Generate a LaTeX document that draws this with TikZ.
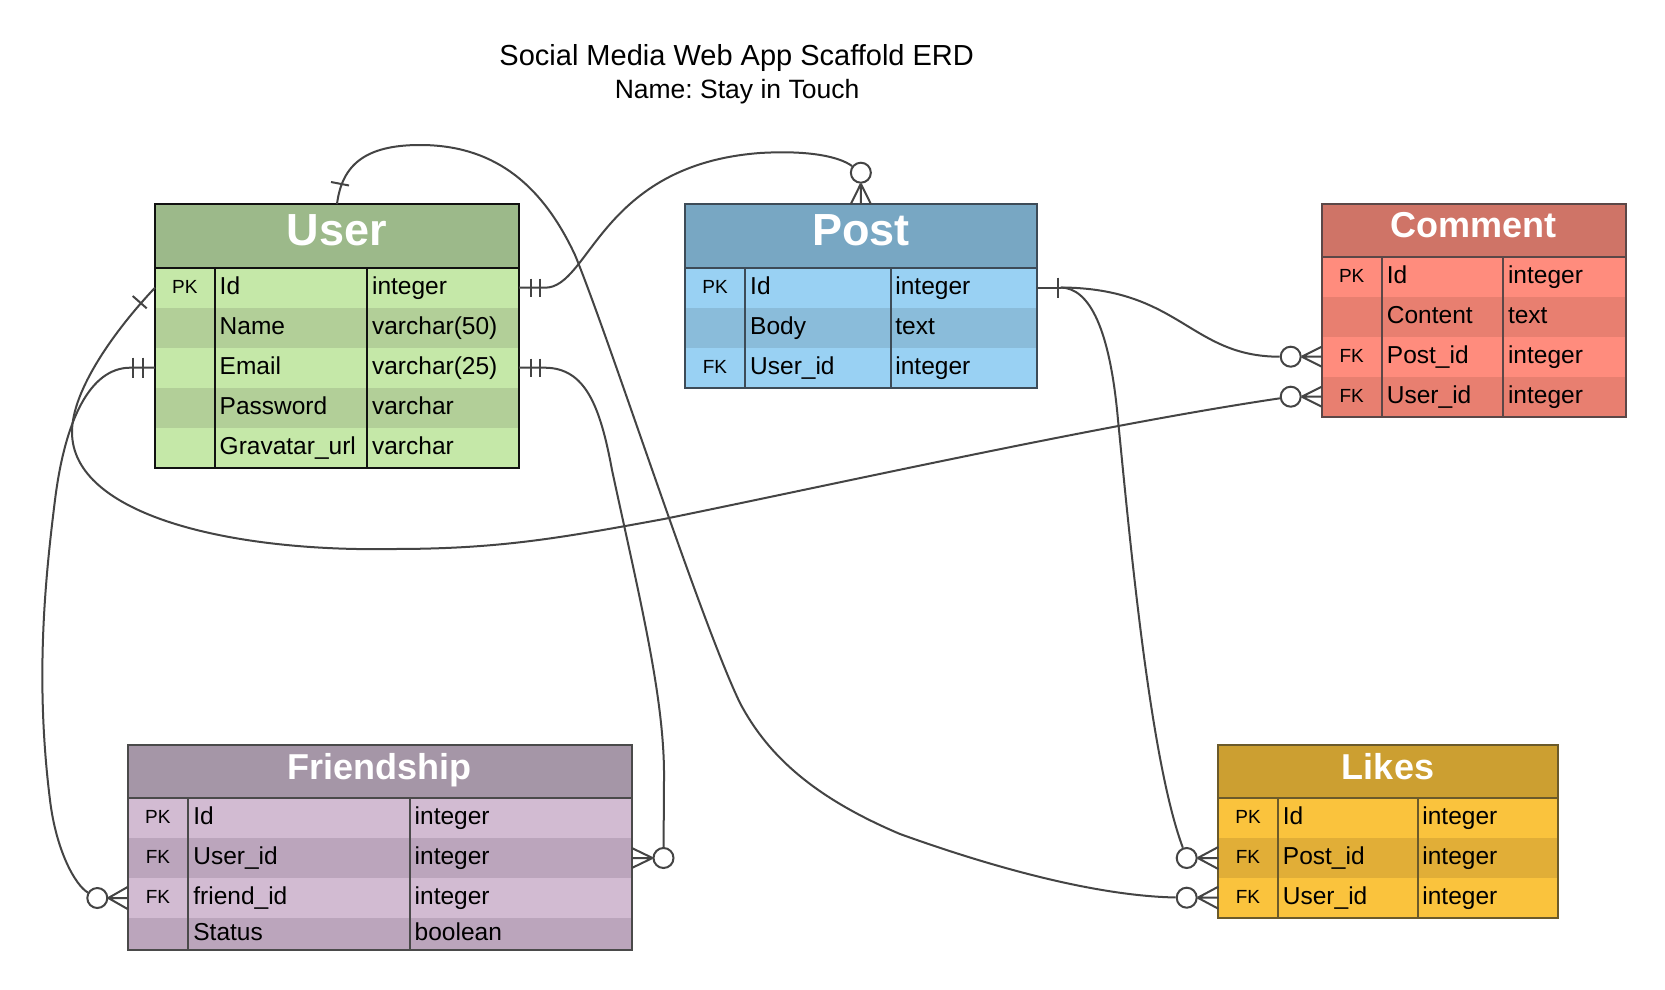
\documentclass[tikz,border=0pt]{standalone}
\usepackage{fontspec}
\setmainfont{Liberation Sans}
\usetikzlibrary{calc}
\frenchspacing
\definecolor{uH}{HTML}{9CB98A}
\definecolor{uL}{HTML}{C5E8A8}
\definecolor{uD}{HTML}{B2CF98}
\definecolor{uB}{HTML}{111111}
\definecolor{pH}{HTML}{78A7C3}
\definecolor{pL}{HTML}{99D1F3}
\definecolor{pD}{HTML}{8ABCDA}
\definecolor{pB}{HTML}{3D4B57}
\definecolor{cH}{HTML}{CF7467}
\definecolor{cL}{HTML}{FF8C7D}
\definecolor{cD}{HTML}{E87F70}
\definecolor{cB}{HTML}{5B4747}
\definecolor{fH}{HTML}{A596A7}
\definecolor{fL}{HTML}{D2BBD2}
\definecolor{fD}{HTML}{BBA5BC}
\definecolor{fB}{HTML}{4A4A4A}
\definecolor{lH}{HTML}{CC9F31}
\definecolor{lL}{HTML}{FAC33D}
\definecolor{lD}{HTML}{E1AE37}
\definecolor{lB}{HTML}{6B5A2A}
\definecolor{ln}{HTML}{444444}
\newcommand{\ERtable}[4]{\def\tL{#1}\def\tA{#2}\def\tB{#3}\def\tR{#4}\pgfmathsetmacro\tW{#4-#1}}
\newcommand{\ERhead}[7]{%
  \node[cellbox, fill=#4, minimum width=\tW pt, minimum height=#3 pt, anchor=north west] (#1) at (\tL,#2) {};
  \node[#5, anchor=base] (#1-txt) at ({(\tL+\tR)/2},#2+#7) {#6};
}
\newcommand{\ERrow}[7]{%
  \pgfmathsetmacro\rc{#2+#3/2}%
  \node[cellbox, fill=#4, minimum width=\tW pt, minimum height=#3 pt, anchor=north west] (#1) at (\tL,#2) {};
  \node[keytxt, anchor=base] (#1-k) at ({(\tL+\tA)/2},\rc+5.5) {#5};
  \node[fldtxt, anchor=base west] (#1-f) at (\tA+5,\rc+6.5) {#6};
  \node[fldtxt, anchor=base west] (#1-t) at (\tB+4.5,\rc+6.5) {#7};
}
\newcommand{\ERframe}[5]{% header, last row, colour, header bottom, bottom
  \draw[tborder, draw=#3] (#1.south west) -- (#1.south east);
  \draw[tborder, draw=#3] (\tA,#4) -- (\tA,#5);
  \draw[tborder, draw=#3] (\tB,#4) -- (\tB,#5);
  \draw[tborder, draw=#3] (#1.north west) rectangle (#2.south east);
}
\begin{document}
\begin{tikzpicture}[x=1pt,y=-1pt,
  cellbox/.style={rectangle, draw=none, inner sep=0pt, outer sep=0pt},
  keytxt/.style={inner sep=0pt, font=\fontsize{19}{22}\selectfont},
  fldtxt/.style={inner sep=0pt, font=\fontsize{24.5}{28}\selectfont},
  bighdr/.style={inner sep=0pt, text=white, font=\bfseries\fontsize{45}{50}\selectfont},
  smallhdr/.style={inner sep=0pt, text=white, font=\bfseries\fontsize{36}{40}\selectfont},
  tborder/.style={line width=2pt},
  conn/.style={draw=ln, line width=2pt},
  zcirc/.style={circle, draw=ln, fill=white, line width=2pt, minimum size=20pt, inner sep=0pt}]
\fill[white] (0,0) rectangle (1665,990);
\useasboundingbox (0,0) rectangle (1665,990);

% title
\node[inner sep=0pt, anchor=base, font=\fontsize{29}{34}\selectfont] (title) at (736.7,66) {Social Media Web App Scaffold ERD};
\node[inner sep=0pt, anchor=base, font=\fontsize{26.5}{30}\selectfont] (subtitle) at (737,98.3) {Name: Stay in Touch};

% User
\ERtable{155}{214.5}{367.4}{519}
\ERhead{user-h}{204}{63.7}{uH}{bighdr}{User}{41.5}
\ERrow{user-id}{267.7}{40}{uL}{PK}{Id}{integer}
\ERrow{user-name}{307.7}{40}{uD}{}{Name}{varchar(50)}
\ERrow{user-email}{347.7}{40}{uL}{}{Email}{varchar(25)}
\ERrow{user-pw}{387.7}{40}{uD}{}{Password}{varchar}
\ERrow{user-grav}{427.7}{40}{uL}{}{Gravatar\_url}{varchar}
\ERframe{user-h}{user-grav}{uB}{267.7}{467.7}

% Post
\ERtable{685}{745}{890.7}{1036.7}
\ERhead{post-h}{204}{63.5}{pH}{bighdr}{Post}{41.5}
\ERrow{post-id}{267.5}{40}{pL}{PK}{Id}{integer}
\ERrow{post-body}{307.5}{40}{pD}{}{Body}{text}
\ERrow{post-user}{347.5}{40}{pL}{FK}{User\_id}{integer}
\ERframe{post-h}{post-user}{pB}{267.5}{387.5}

% Comment
\ERtable{1321.7}{1381.7}{1503.3}{1625.7}
\ERhead{cm-h}{204}{52.7}{cH}{smallhdr}{Comment}{33}
\ERrow{cm-id}{256.7}{40}{cL}{PK}{Id}{integer}
\ERrow{cm-content}{296.7}{40}{cD}{}{Content}{text}
\ERrow{cm-post}{336.7}{40}{cL}{FK}{Post\_id}{integer}
\ERrow{cm-user}{376.7}{40}{cD}{FK}{User\_id}{integer}
\ERframe{cm-h}{cm-user}{cB}{256.7}{416.7}

% Friendship
\ERtable{127.6}{188.2}{410}{631.8}
\ERhead{fr-h}{745}{53.3}{fH}{smallhdr}{Friendship}{34.3}
\ERrow{fr-id}{798.3}{40}{fL}{PK}{Id}{integer}
\ERrow{fr-user}{838.3}{39.4}{fD}{FK}{User\_id}{integer}
\ERrow{fr-friend}{877.7}{40.6}{fL}{FK}{friend\_id}{integer}
\ERrow{fr-status}{918.3}{31.7}{fD}{}{Status}{boolean}
\ERframe{fr-h}{fr-status}{fB}{798.3}{950}

% Likes
\ERtable{1218.3}{1277.7}{1417.7}{1557.7}
\ERhead{lk-h}{745}{53.3}{lH}{smallhdr}{Likes}{34.3}
\ERrow{lk-id}{798.3}{40}{lL}{PK}{Id}{integer}
\ERrow{lk-post}{838.3}{39.4}{lD}{FK}{Post\_id}{integer}
\ERrow{lk-user}{877.7}{40}{lL}{FK}{User\_id}{integer}
\ERframe{lk-h}{lk-user}{lB}{798.3}{917.7}

% zero-or-many circles
\node[zcirc] (cpost) at ($(post-h.north)+(0,-31.3)$) {};
\node[zcirc] (ccp) at ($(cm-post.west)+(-31,0)$) {};
\node[zcirc] (ccu) at ($(cm-user.west)+(-31,0)$) {};
\node[zcirc] (clp) at ($(lk-post.west)+(-31.6,0)$) {};
\node[zcirc] (clu) at ($(lk-user.west)+(-31.6,0)$) {};
\node[zcirc] (cff) at ($(fr-friend.west)+(-30.3,0)$) {};
\node[zcirc] (cfu) at ($(fr-user.east)+(31.7,0)$) {};

% User.Id -> Post
\draw[conn] (user-id.east) -- ++(26,0) .. controls (590,287.7) and (600,165) .. (760,153) .. controls (810,150) and (840,157) .. (cpost);
\draw[conn] ($(user-id.east)+(11.7,-9)$) -- ++(0,18);
\draw[conn] ($(user-id.east)+(20.6,-9)$) -- ++(0,18);
\draw[conn] (cpost.south) -- ($(post-h.north)+(-10,0)$) (cpost.south) -- (post-h.north) (cpost.south) -- ($(post-h.north)+(10,0)$);

% User -> Likes.User_id
\draw[conn] (user-h.north) .. controls (342,165) and (365,145) .. (420,145) .. controls (490,145) and (540,180) .. (575,255) .. controls (610,340) and (700,620) .. (740,703) .. controls (770,760) and (820,800) .. (900,834) .. controls (1000,870) and (1100,896) .. (clu);
\draw[conn] ($(user-h.north)+(-6,-22)$) -- ($(user-h.north)+(12,-18.5)$);
\draw[conn] (clu.east) -- ($(lk-user.west)+(0,-11)$) (clu.east) -- (lk-user.west) (clu.east) -- ($(lk-user.west)+(0,11)$);

% User.Id -> Comment.User_id
\draw[conn] (user-id.west) .. controls (115,330) and (72,390) .. (72,432) .. controls (72,515) and (230,552) .. (393,549) .. controls (500,549) and (560,538) .. (664,519) .. controls (850,481) and (1100,425) .. (ccu);
\draw[conn] ($(user-id.west)+(-22.3,8.3)$) -- ($(user-id.west)+(-8.3,20.6)$);
\draw[conn] (ccu.east) -- ($(cm-user.west)+(0,-10)$) (ccu.east) -- (cm-user.west) (ccu.east) -- ($(cm-user.west)+(0,10)$);

% User.Email -> Friendship.friend_id
\draw[conn] (user-email.west) -- ++(-25,0) .. controls (90,368) and (65,420) .. (55,500) .. controls (45,580) and (35,680) .. (50,800) .. controls (56,850) and (75,885) .. (cff);
\draw[conn] ($(user-email.west)+(-11.7,-10)$) -- ++(0,20);
\draw[conn] ($(user-email.west)+(-21.7,-10)$) -- ++(0,20);
\draw[conn] (cff.east) -- ($(fr-friend.west)+(0,-11)$) (cff.east) -- (fr-friend.west) (cff.east) -- ($(fr-friend.west)+(0,11)$);

% User.Email -> Friendship.User_id
\draw[conn] (user-email.east) -- ++(26,0) .. controls (585,368) and (600,405) .. (612,470) .. controls (640,600) and (665,700) .. (664,780) -- (cfu);
\draw[conn] ($(user-email.east)+(11.7,-9)$) -- ++(0,18);
\draw[conn] ($(user-email.east)+(20.6,-9)$) -- ++(0,18);
\draw[conn] (cfu.west) -- ($(fr-user.east)+(0,-10)$) (cfu.west) -- (fr-user.east) (cfu.west) -- ($(fr-user.east)+(0,10)$);

% Post.Id -> Comment.Post_id and Likes.Post_id
\draw[conn] (post-id.east) -- ++(24,0) coordinate (pj);
\draw[conn] ($(post-id.east)+(21,-10)$) -- ++(0,20);
\draw[conn] (pj) .. controls (1180,288) and (1190,356.7) .. (ccp);
\draw[conn] (ccp.east) -- ($(cm-post.west)+(0,-10)$) (ccp.east) -- (cm-post.west) (ccp.east) -- ($(cm-post.west)+(0,10)$);
\draw[conn] (pj) .. controls (1090,288) and (1110,330) .. (1118,420) .. controls (1130,540) and (1150,760) .. (clp);
\draw[conn] (clp.east) -- ($(lk-post.west)+(0,-11)$) (clp.east) -- (lk-post.west) (clp.east) -- ($(lk-post.west)+(0,11)$);
\end{tikzpicture}
\end{document}
